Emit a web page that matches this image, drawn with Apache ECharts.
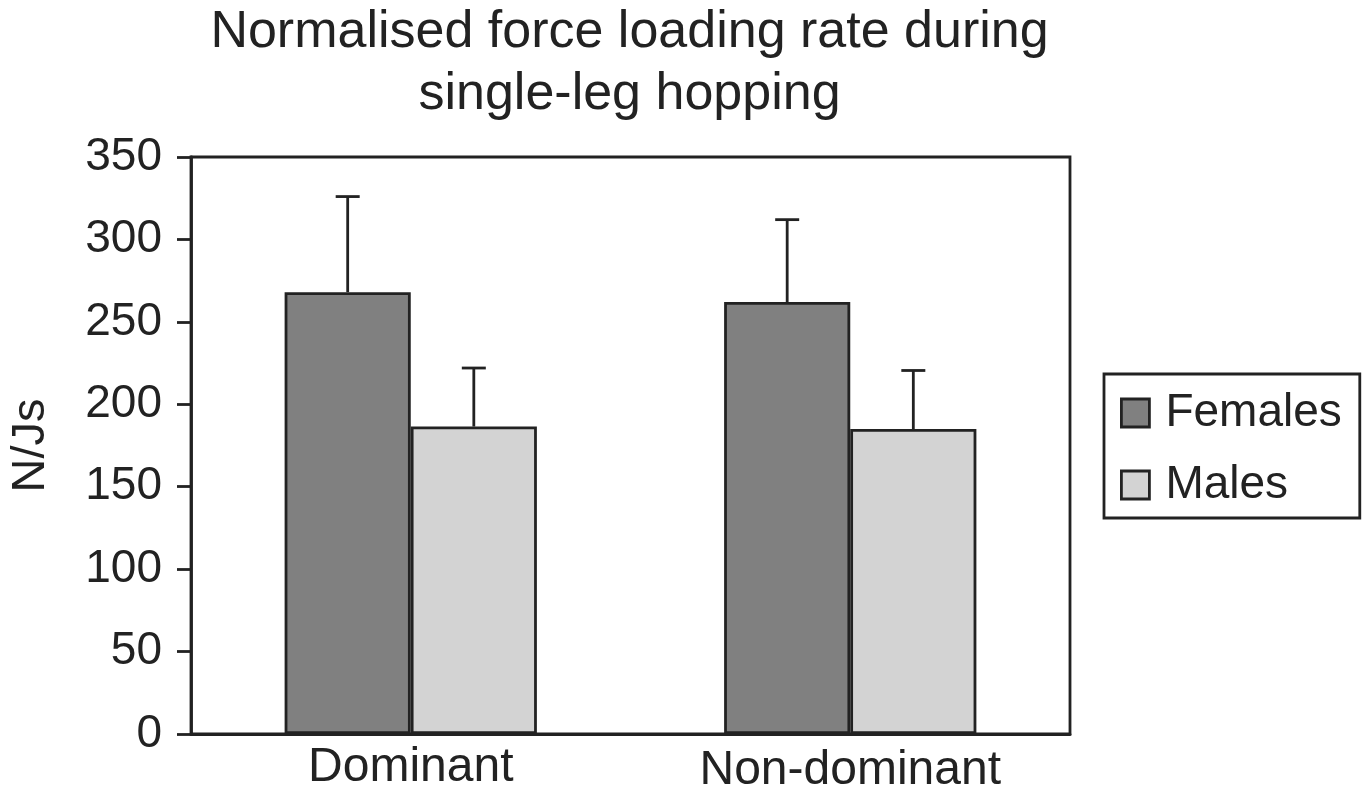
<!DOCTYPE html>
<html>
<head>
<meta charset="utf-8">
<script src="https://cdn.jsdelivr.net/npm/echarts@6/dist/echarts.min.js"></script>
<style>
html,body{margin:0;padding:0;background:#fff;}
#chart{width:1363px;height:798px;}
</style>
</head>
<body>
<div id="chart"></div>
<script>
var categories = ['Dominant', 'Non-dominant'];
var seriesNames = ['Females', 'Males'];
var femalesMean = [268, 262];
var femalesSD = [58, 50];
var malesMean = [186.5, 185];
var malesSD = [35.5, 35.5];
var yTicks = [0, 50, 100, 150, 200, 250, 300, 350];

var FONT = '"Liberation Sans", Arial, Helvetica, sans-serif';
var INK = '#222222';
var BAR_FRAC = 0.287;

function errorSeries(name, means, sds, side) {
  var data = means.map(function (m, i) { return [i, m, m + sds[i]]; });
  return {
    type: 'custom',
    name: name + ' SD',
    data: data,
    z: 5,
    silent: true,
    renderItem: function (params, api) {
      var idx = api.value(0);
      var base = api.coord([idx, api.value(1)]);
      var top = api.coord([idx, api.value(2)]);
      var band = api.size([1, 0])[0];
      var x = base[0] + side * band * BAR_FRAC / 2;
      var cap = 12;
      var st = { stroke: INK, lineWidth: 2.8 };
      return {
        type: 'group',
        children: [
          { type: 'line', shape: { x1: x, y1: base[1], x2: x, y2: top[1] }, style: st },
          { type: 'line', shape: { x1: x - cap, y1: top[1], x2: x + cap, y2: top[1] }, style: st }
        ]
      };
    }
  };
}

var chart = echarts.init(document.getElementById('chart'));
chart.setOption({
  backgroundColor: '#ffffff',
  animation: false,
  title: {
    text: 'Normalised force loading rate during\nsingle-leg hopping',
    left: 629.5,
    top: 2,
    padding: 0,
    textAlign: 'center',
    textStyle: { fontFamily: FONT, fontSize: 52, fontWeight: 'normal', color: INK, lineHeight: 62 }
  },
  legend: {
    data: seriesNames,
    orient: 'vertical',
    left: 1104,
    top: 374,
    padding: [16, 18, 10, 16],
    itemGap: 26,
    itemWidth: 28,
    itemHeight: 28,
    icon: 'rect',
    borderColor: INK,
    borderWidth: 2.8,
    itemStyle: { borderColor: INK, borderWidth: 2.8 },
    textStyle: { fontFamily: FONT, fontSize: 46, color: INK, lineHeight: 46, padding: [0, 0, 0, 11] }
  },
  grid: {
    left: 186, right: 293, top: 157, bottom: 64,
    show: true, borderColor: INK, borderWidth: 2.8, backgroundColor: 'transparent'
  },
  xAxis: {
    type: 'category',
    data: categories,
    axisLine: { show: true, lineStyle: { color: INK, width: 2.8 } },
    axisTick: { show: false },
    axisLabel: {
      margin: 10,
      formatter: function (v) { return v === 'Dominant' ? '{a|' + v + '}' : '{b|' + v + '}'; },
      rich: {
        a: { fontFamily: FONT, fontSize: 48, color: INK, lineHeight: 48 },
        b: { fontFamily: FONT, fontSize: 48, color: INK, lineHeight: 48, padding: [6, 0, 0, 0] }
      }
    },
    splitLine: { show: false }
  },
  yAxis: {
    type: 'value',
    min: yTicks[0],
    max: yTicks[yTicks.length - 1],
    interval: 50,
    name: 'N/Js',
    nameLocation: 'middle',
    nameGap: 136,
    nameRotate: 90,
    nameTextStyle: { fontFamily: FONT, fontSize: 47, color: INK },
    axisLine: { show: true, lineStyle: { color: INK, width: 2.8 } },
    axisTick: { show: true, inside: false, length: 14, lineStyle: { color: INK, width: 2.8 } },
    axisLabel: { margin: 29, fontFamily: FONT, fontSize: 46, color: INK },
    splitLine: { show: false }
  },
  series: [
    {
      type: 'bar', name: seriesNames[0], data: femalesMean,
      barWidth: (BAR_FRAC * 100) + '%', barGap: '0%',
      itemStyle: { color: '#808080', borderColor: INK, borderWidth: 2.8 }
    },
    {
      type: 'bar', name: seriesNames[1], data: malesMean,
      barWidth: (BAR_FRAC * 100) + '%', barGap: '0%',
      itemStyle: { color: '#d3d3d3', borderColor: INK, borderWidth: 2.8 }
    },
    errorSeries(seriesNames[0], femalesMean, femalesSD, -1),
    errorSeries(seriesNames[1], malesMean, malesSD, 1)
  ]
});
</script>
</body>
</html>
